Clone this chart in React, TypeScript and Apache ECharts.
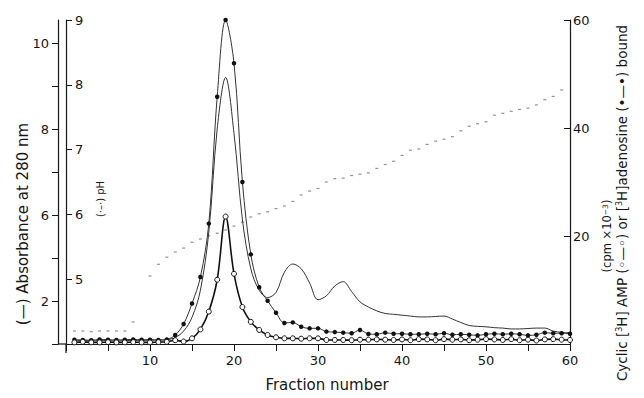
import React, { useEffect, useRef } from "react";
import * as echarts from "echarts";

// Fraction numbers
const fractions = [
  1, 2, 3, 4, 5, 6, 7, 8, 9, 10, 11, 12, 13, 14, 15, 16, 17, 18, 19, 20,
  21, 22, 23, 24, 25, 26, 27, 28, 29, 30, 31, 32, 33, 34, 35, 36, 37, 38, 39, 40,
  41, 42, 43, 44, 45, 46, 47, 48, 49, 50, 51, 52, 53, 54, 55, 56, 57, 58, 59, 60,
];

// Absorbance at 280 nm (plotted in the left axis' tick units)
const absorbance = [
  0.08, 0.08, 0.07, 0.08, 0.08, 0.07, 0.08, 0.08, 0.08, 0.09, 0.09, 0.1,
  0.15, 0.3, 0.62, 1.25, 2.6, 5.0, 6.2, 4.9, 2.9, 1.75, 1.25, 1.08,
  1.2, 1.67, 1.86, 1.75, 1.42, 1.03, 1.12, 1.35, 1.45, 1.22, 0.98, 0.86,
  0.77, 0.71, 0.69, 0.67, 0.65, 0.63, 0.63, 0.64, 0.65, 0.58, 0.5, 0.43,
  0.41, 0.4, 0.38, 0.37, 0.35, 0.35, 0.36, 0.37, 0.37, 0.3, 0.27, 0.26,
];

// [3H]adenosine bound (filled circles), cpm x 10^-3
const adenosineBound = [
  0.8, 0.75, 0.7, 0.85, 0.8, 0.75, 0.8, 0.85, 0.8, 0.8, 0.75, 0.85,
  1.67, 3.7, 7.5, 12.4, 22.3, 45.8, 60, 52, 30, 16.6, 10.5, 8.0,
  5.8, 3.9, 4.0, 3.2, 2.9, 2.9, 2.3, 2.2, 2.1, 2.0, 2.6, 1.85,
  1.8, 2.1, 1.9, 1.9, 1.8, 1.8, 1.9, 1.8, 2.0, 1.7, 1.8, 1.7,
  1.6, 1.8, 1.9, 1.8, 1.9, 1.8, 1.6, 1.7, 2.1, 2.0, 2.0, 1.9,
];

// Cyclic [3H]AMP bound (open circles), cpm x 10^-3
const cAMPBound = [
  0.3, 0.4, 0.3, 0.3, 0.35, 0.3, 0.3, 0.35, 0.3, 0.3, 0.35, 0.4,
  0.7, 0.45, 1.05, 2.7, 6.0, 11.9, 23.6, 13.0, 6.85, 4.1, 2.6, 1.67,
  1.24, 1.05, 1.05, 0.98, 1.05, 1.05, 0.75, 0.75, 0.75, 0.7, 0.8, 0.8,
  0.85, 0.8, 0.75, 0.85, 0.7, 0.9, 0.85, 0.7, 0.9, 0.8, 0.85, 0.7,
  0.8, 0.9, 0.85, 0.75, 0.9, 0.7, 0.8, 0.65, 0.85, 0.9, 0.8, 0.75,
];

// pH of each fraction (null = not drawn)
const pH = [
  4.2, 4.2, 4.19, 4.2, 4.2, 4.2, 4.2, 4.34, null, 5.05, 5.23, 5.34,
  5.42, 5.48, 5.57, 5.62, 5.67, 5.71, 5.76, 5.82, 5.88, 5.96, 6.01, 6.04,
  6.09, 6.13, 6.2, 6.3, 6.36, 6.4, 6.5, 6.55, 6.56, 6.6, 6.62, 6.64,
  6.71, 6.77, 6.82, 6.91, 6.99, 7.01, 7.08, 7.13, 7.16, 7.2, 7.29, 7.36,
  7.4, 7.43, 7.53, 7.56, 7.59, 7.62, 7.64, 7.69, 7.77, 7.82, 7.92, null,
];

// Axis ticks and labels
const xLabelValues = [10, 20, 30, 40, 50, 60];
const absTickValues = [0, 1, 2, 3, 4, 5, 6, 7];
const absLabelValues = [1, 3, 5, 7];
const absLabelTexts = ["2", "6", "8", "10"];
const pHLabelValues = [5, 6, 7, 8, 9];
const cpmLabelValues = [20, 40, 60];

const FONT = "DejaVu Sans";
const INK = "#161616";

export default function App() {
  const ref = useRef<HTMLDivElement>(null);

  useEffect(() => {
    document.body.style.margin = "0";
    if (!ref.current) return;
    const chart = echarts.init(ref.current, null, { renderer: "svg" });

    const pairs = (vals: (number | null)[]) =>
      fractions.map((f, i) => [f, vals[i]]);

    const option: any = {
      animation: false,
      backgroundColor: "#ffffff",
      grid: { left: 66, right: 74, top: 20, bottom: 54, containLabel: false },
      xAxis: {
        type: "value",
        min: 0,
        max: 60,
        interval: 5,
        axisLine: { show: true, onZero: false, lineStyle: { color: INK, width: 1.2 } },
        axisTick: { show: true, length: 7, lineStyle: { color: INK, width: 1 } },
        axisLabel: {
          margin: 10,
          fontSize: 13,
          fontFamily: FONT,
          color: INK,
          formatter: (v: number) => (xLabelValues.indexOf(v) >= 0 ? String(v) : ""),
        },
        splitLine: { show: false },
      },
      yAxis: [
        {
          type: "value",
          position: "left",
          offset: 8,
          min: 0,
          max: 7.535,
          axisLine: { show: true, onZero: false, lineStyle: { color: INK, width: 1.2 } },
          axisTick: {
            show: true,
            length: 6,
            customValues: absTickValues,
            lineStyle: { color: INK },
          },
          axisLabel: {
            customValues: absLabelValues,
            margin: 9,
            fontSize: 13,
            fontFamily: FONT,
            color: INK,
            formatter: (v: number) => {
              const i = absLabelValues.indexOf(v);
              return i >= 0 ? absLabelTexts[i] : "";
            },
          },
          splitLine: { show: false },
        },
        {
          type: "value",
          position: "left",
          offset: 0,
          min: 4,
          max: 9,
          interval: 1,
          axisLine: { show: true, onZero: false, lineStyle: { color: INK, width: 1.2 } },
          axisTick: { show: true, inside: true, length: 6, lineStyle: { color: INK } },
          axisLabel: {
            inside: true,
            margin: 9,
            fontSize: 13,
            fontFamily: FONT,
            color: INK,
            formatter: (v: number) => (pHLabelValues.indexOf(v) >= 0 ? String(v) : ""),
          },
          splitLine: { show: false },
        },
        {
          type: "value",
          position: "right",
          offset: 0,
          min: 0,
          max: 60,
          interval: 20,
          axisLine: { show: true, onZero: false, lineStyle: { color: INK, width: 1.2 } },
          axisTick: { show: true, inside: true, length: 6, lineStyle: { color: INK } },
          axisLabel: {
            margin: 3,
            fontSize: 13,
            fontFamily: FONT,
            color: INK,
            formatter: (v: number) => (cpmLabelValues.indexOf(v) >= 0 ? String(v) : ""),
          },
          splitLine: { show: false },
        },
      ],
      series: [
        {
          name: "Absorbance",
          type: "line",
          yAxisIndex: 0,
          data: pairs(absorbance),
          smooth: 0.35,
          showSymbol: false,
          lineStyle: { color: "#333", width: 1 },
          z: 2,
        },
        {
          name: "pH",
          type: "scatter",
          yAxisIndex: 1,
          data: pairs(pH).filter((p) => p[1] !== null),
          symbol: "rect",
          symbolSize: [3, 1.2],
          itemStyle: { color: "#777" },
          z: 1,
        },
        {
          name: "Adenosine",
          type: "line",
          yAxisIndex: 2,
          data: pairs(adenosineBound),
          smooth: 0.35,
          symbol: "circle",
          symbolSize: 4.5,
          itemStyle: { color: "#111" },
          lineStyle: { color: "#333", width: 1 },
          z: 3,
        },
        {
          name: "cAMP",
          type: "line",
          yAxisIndex: 2,
          data: pairs(cAMPBound),
          smooth: 0.35,
          symbol: "circle",
          symbolSize: 5,
          itemStyle: { color: "#ffffff", borderColor: "#111", borderWidth: 1 },
          lineStyle: { color: "#111", width: 1.6 },
          z: 4,
        },
      ],
      graphic: [
        {
          type: "line",
          shape: { x1: 58, y1: 344, x2: 66, y2: 344 },
          style: { stroke: INK, lineWidth: 1.2 },
        },
        {
          type: "line",
          shape: { x1: 66, y1: 344, x2: 66, y2: 353 },
          style: { stroke: INK, lineWidth: 1.2 },
        },
        {
          type: "text",
          x: 327,
          y: 385,
          style: {
            text: "Fraction number",
            fontSize: 15,
            fontFamily: FONT,
            fill: INK,
            textAlign: "center",
            textVerticalAlign: "middle",
          },
        },
        {
          type: "text",
          x: 23,
          y: 224,
          rotation: Math.PI / 2,
          style: {
            text: "(—) Absorbance at 280 nm",
            fontSize: 15,
            fontFamily: FONT,
            fill: INK,
            textAlign: "center",
            textVerticalAlign: "middle",
          },
        },
        {
          type: "text",
          x: 100,
          y: 199,
          rotation: Math.PI / 2,
          style: {
            text: "(·–·) pH",
            fontSize: 10,
            fontFamily: FONT,
            fill: INK,
            textAlign: "center",
            textVerticalAlign: "middle",
          },
        },
        {
          type: "text",
          x: 622,
          y: 203,
          rotation: Math.PI / 2,
          style: {
            text: "Cyclic [{s|3}H] AMP (◦—◦) or [{s|3}H]adenosine (•—•) bound",
            fontSize: 13.5,
            fontFamily: FONT,
            fill: INK,
            textAlign: "center",
            textVerticalAlign: "middle",
            rich: {
              s: { fontSize: 8, fontFamily: FONT, fill: INK, verticalAlign: "top" },
            },
          },
        },
        {
          type: "text",
          x: 607,
          y: 236,
          rotation: Math.PI / 2,
          style: {
            text: "(cpm ×10{s|−3})",
            fontSize: 11.5,
            fontFamily: FONT,
            fill: INK,
            textAlign: "center",
            textVerticalAlign: "middle",
            rich: {
              s: { fontSize: 7.5, fontFamily: FONT, fill: INK, verticalAlign: "top" },
            },
          },
        },
      ],
    };

    chart.setOption(option);
    return () => chart.dispose();
  }, []);

  return <div ref={ref} style={{ width: 644, height: 398 }} />;
}
